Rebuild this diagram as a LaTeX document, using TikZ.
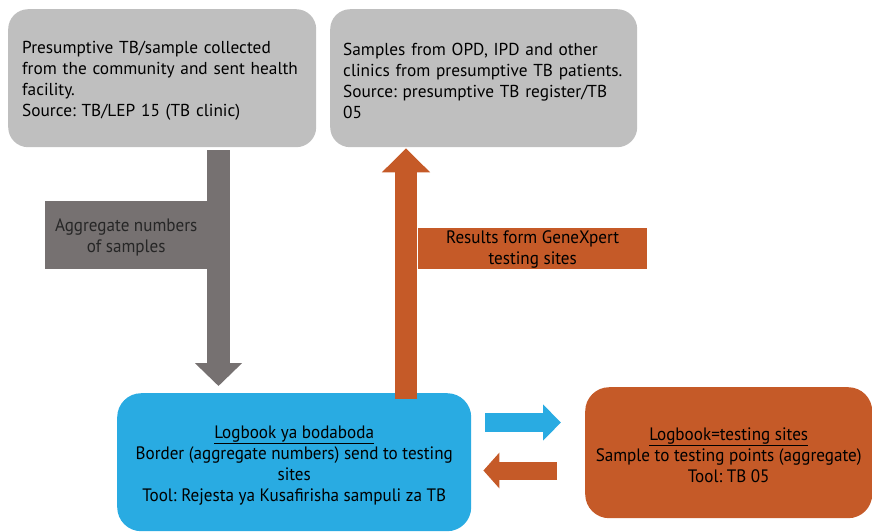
\documentclass[tikz,border=0pt]{standalone}
\usepackage{fontspec}
\setmainfont{PT Sans}
\newfontfamily\condfont[FakeStretch=0.95]{PT Sans}
\usetikzlibrary{arrows.meta}
\frenchspacing
\definecolor{boxgray}{HTML}{BFBFBF}
\definecolor{darkgray}{HTML}{767171}
\definecolor{skyblue}{HTML}{29ABE2}
\definecolor{rust}{HTML}{C55A28}
% invisible strut that lowers a text block a little inside its box
\newcommand\lead[1]{\rule{0pt}{#1}}
\tikzset{
  srcbox/.style={fill=boxgray, rounded corners=20pt, text width=280pt, inner xsep=14pt,
    minimum height=138pt, align=left, font=\fontsize{17.3}{21}\selectfont, anchor=north west},
  flowbox/.style={rounded corners=24pt, align=center, inner sep=0pt,
    font=\condfont\fontsize{18}{21.2}\selectfont, anchor=north west},
  tagbox/.style={inner sep=0pt, align=center, font=\condfont\fontsize{18}{21}\selectfont, anchor=north west},
  blockarrow/.style={line cap=butt}
}
\begin{document}
\begin{tikzpicture}[x=1pt, y=-1pt]
\useasboundingbox (0,0) rectangle (872,531);

% source boxes
\node[srcbox] (src1) at (8,9) {\lead{18pt}Presumptive TB/sample collected from the community and sent health facility.\\Source: TB/LEP 15 (TB clinic)};
\node[srcbox, inner xsep=13pt, text width=281pt] (src2) at (330,9) {\lead{18pt}Samples from OPD, IPD and other clinics from presumptive TB patients.\\Source: presumptive TB register/TB 05};

% logbook boxes
\node[flowbox, fill=skyblue, minimum width=354pt, minimum height=138pt] (boda) at (117,393)
  {\lead{19pt}\underline{Logbook ya bodaboda}\\Border (aggregate numbers) send to testing\\sites\\Tool: Rejesta ya Kusafirisha sampuli za TB};
\node[flowbox, fill=rust, minimum width=287pt, minimum height=131pt] (site) at (585,387)
  {\lead{17.5pt}\underline{Logbook=testing sites}\\Sample to testing points (aggregate)\\Tool: TB 05};

% attachment points of the block arrows
\coordinate (gx) at (218.5,0);
\coordinate (ox) at (406,0);
\coordinate (by) at (0,422.5);
\coordinate (oy) at (0,470.5);

% aggregate numbers: down
\draw[blockarrow, darkgray, line width=23pt, -{Triangle[width=46pt,length=23pt]}]
  ([yshift=-3pt]src1.south -| gx) -- ([yshift=7pt]boda.north -| gx);
% results: up
\draw[blockarrow, rust, line width=22pt, -{Triangle[width=47pt,length=24pt]}]
  ([yshift=-6pt]boda.north -| ox) -- ([yshift=-1pt]src2.south -| ox);
% samples out
\draw[blockarrow, skyblue, line width=19pt, -{Triangle[width=35pt,length=18pt]}]
  ([xshift=14pt]boda.east |- by) -- ([xshift=-24pt]site.west |- by);
% results back
\draw[blockarrow, rust, line width=18pt, -{Triangle[width=35pt,length=16pt]}]
  ([xshift=-28pt]site.west |- oy) -- ([xshift=12pt]boda.east |- oy);

% labels on the vertical arrows
\node[tagbox, fill=darkgray, text=black!85, minimum width=162pt, minimum height=68pt] (aggtag) at (45,201)
  {\lead{16.5pt}Aggregate numbers\\of samples};
\node[tagbox, fill=rust, text=black, minimum width=229pt, minimum height=41pt] (restag) at (418,228)
  {\lead{15pt}Results form GeneXpert\\testing sites};
\end{tikzpicture}
\end{document}
